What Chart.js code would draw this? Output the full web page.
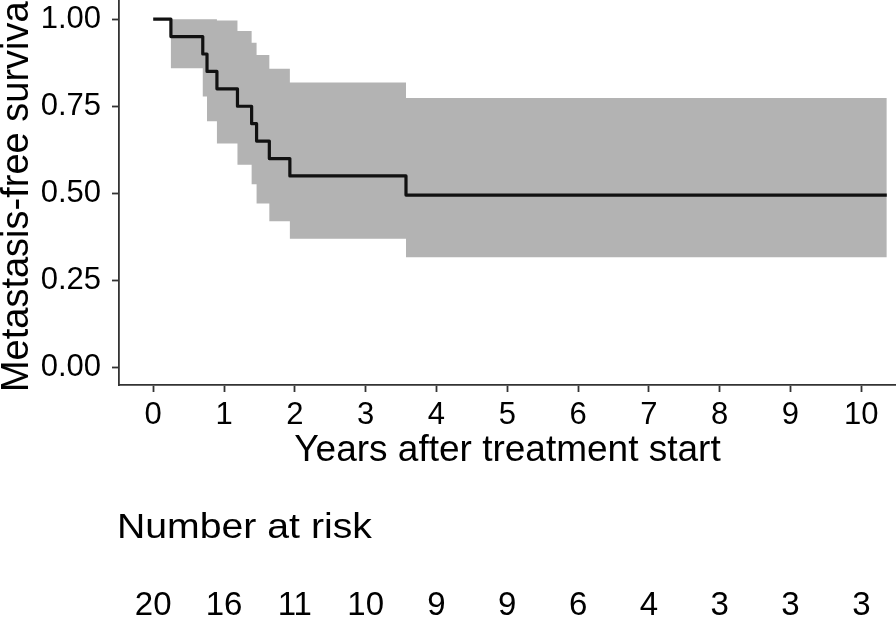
<!DOCTYPE html>
<html>
<head>
<meta charset="utf-8">
<script src="https://cdn.jsdelivr.net/npm/chart.js@4/dist/chart.umd.min.js"></script>
<style>
html,body{margin:0;padding:0;background:#fff;}
#wrap{width:896px;height:620px;}
canvas{display:block;}
</style>
</head>
<body>
<div id="wrap"><canvas id="c" width="896" height="620"></canvas></div>
<script>
// Kaplan-Meier estimate
const times = [0, 0.25, 0.70, 0.76, 0.90, 1.19, 1.39, 1.46, 1.64, 1.93, 3.57, 10.36];
const survival = [1.00, 0.95, 0.90, 0.85, 0.80, 0.75, 0.70, 0.65, 0.60, 0.55, 0.495, 0.495];
const upperCI = [1.00, 1.00, 1.00, 1.00, 0.996, 0.966, 0.932, 0.897, 0.858, 0.818, 0.774, 0.774];
const lowerCI = [1.00, 0.859, 0.778, 0.707, 0.643, 0.582, 0.526, 0.471, 0.420, 0.370, 0.317, 0.317];

// Axes
const xTickValues = [0, 1, 2, 3, 4, 5, 6, 7, 8, 9, 10];
const xTickLabels = ['0', '1', '2', '3', '4', '5', '6', '7', '8', '9', '10'];
const yTickValues = [0, 0.25, 0.5, 0.75, 1.0];
const yTickLabels = ['0.00', '0.25', '0.50', '0.75', '1.00'];
const xTitle = 'Years after treatment start';
const yTitle = 'Metastasis-free survival';

// Risk table
const riskTitle = 'Number at risk';
const riskTimes = [0, 1, 2, 3, 4, 5, 6, 7, 8, 9, 10];
const riskCounts = [20, 16, 11, 10, 9, 9, 6, 4, 3, 3, 3];

const FONT = "'Liberation Sans', Arial, Helvetica, sans-serif";
Chart.defaults.font.family = FONT;

const pts = (ys) => times.map((t, i) => ({x: t, y: ys[i]}));

const riskPlugin = {
  id: 'riskTable',
  afterDraw(chart) {
    const ctx = chart.ctx;
    const xs = chart.scales.x;
    ctx.save();
    ctx.fillStyle = '#000';
    ctx.font = '35px ' + FONT;
    ctx.textAlign = 'left';
    ctx.textBaseline = 'alphabetic';
    ctx.translate(117, 538);
    ctx.scale(1.12, 1);
    ctx.fillText(riskTitle, 0, 0);
    ctx.restore();

    ctx.save();
    ctx.fillStyle = '#000';
    ctx.font = '33px ' + FONT;
    ctx.textAlign = 'center';
    ctx.textBaseline = 'alphabetic';
    riskTimes.forEach((t, i) => {
      ctx.fillText(String(riskCounts[i]), xs.getPixelForValue(t), 615);
    });
    ctx.restore();
  }
};

new Chart(document.getElementById('c'), {
  type: 'line',
  data: {
    datasets: [
      {
        label: 'upper',
        data: pts(upperCI),
        stepped: 'before',
        borderWidth: 0,
        borderColor: 'rgba(0,0,0,0)',
        backgroundColor: 'rgb(179,179,179)',
        pointRadius: 0,
        fill: '+1',
        order: 2
      },
      {
        label: 'lower',
        data: pts(lowerCI),
        stepped: 'before',
        borderWidth: 0,
        borderColor: 'rgba(0,0,0,0)',
        pointRadius: 0,
        fill: false,
        order: 2
      },
      {
        label: 'survival',
        data: pts(survival),
        stepped: 'before',
        borderWidth: 3.2,
        borderColor: '#111',
        borderJoinStyle: 'round',
        pointRadius: 0,
        fill: false,
        order: 1
      }
    ]
  },
  options: {
    responsive: false,
    animation: false,
    devicePixelRatio: 1,
    layout: {padding: 0},
    plugins: {legend: {display: false}, tooltip: {enabled: false}},
    scales: {
      x: {
        type: 'linear',
        min: -0.483,
        max: 10.49,
        afterBuildTicks: (s) => { s.ticks = xTickValues.map(v => ({value: v})); },
        afterFit: (s) => { s.height = 235; s.paddingLeft = 0; s.paddingRight = 0; },
        ticks: {
          autoSkip: false,
          maxRotation: 0,
          padding: 5,
          color: '#000',
          font: {size: 31},
          callback: (v, i) => xTickLabels[i]
        },
        grid: {display: true, drawOnChartArea: false, drawTicks: true, tickLength: 7, tickWidth: 1.8, tickColor: '#333'},
        border: {display: true, color: '#333', width: 1.8},
        title: {display: true, text: xTitle, color: '#000', font: {size: 37}, padding: {top: 0, bottom: 147.5}}
      },
      y: {
        type: 'linear',
        min: -0.05,
        max: 1.055,
        afterBuildTicks: (s) => { s.ticks = yTickValues.map(v => ({value: v})); },
        afterFit: (s) => { s.width = 119; s.paddingTop = 0; s.paddingBottom = 0; },
        ticks: {
          autoSkip: false,
          padding: 11,
          color: '#000',
          font: {size: 31},
          callback: (v, i) => yTickLabels[i]
        },
        grid: {display: true, drawOnChartArea: false, drawTicks: true, tickLength: 7, tickWidth: 1.8, tickColor: '#333'},
        border: {display: true, color: '#333', width: 1.8},
        title: {display: true, text: yTitle, color: '#000', font: {size: 38, lineHeight: 0.92}, padding: 0}
      }
    }
  },
  plugins: [riskPlugin]
});
</script>
</body>
</html>
